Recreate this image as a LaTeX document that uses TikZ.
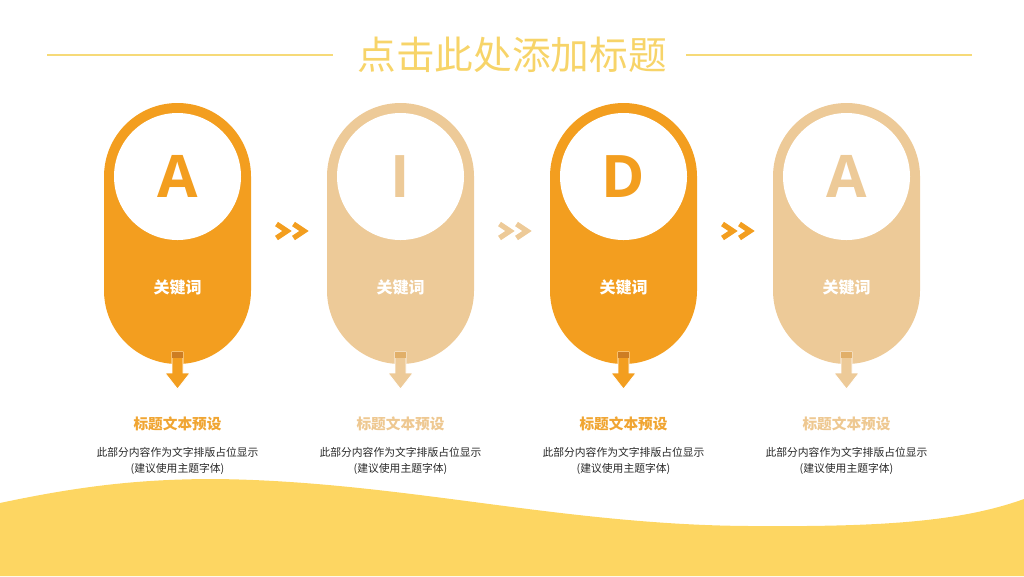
\documentclass[tikz,border=0pt]{standalone}
\usepackage{fontspec}
\setmainfont{Noto Sans CJK SC}
\newfontfamily\letf{Open Sans}
\definecolor{orD}{RGB}{243,158,31}
\definecolor{orL}{RGB}{237,202,152}
\definecolor{orDk}{RGB}{205,125,35}
\definecolor{orLk}{RGB}{225,175,105}
\definecolor{ttl}{RGB}{247,212,105}
\definecolor{lin}{RGB}{246,218,120}
\definecolor{wave}{RGB}{253,214,98}
\definecolor{txtD}{RGB}{240,165,50}
\definecolor{txtL}{RGB}{238,200,145}
\definecolor{desc}{RGB}{40,40,40}
\tikzset{
  capsule/.style={rectangle, rounded corners=55.1pt, minimum width=110.25pt, minimum height=195.75pt, inner sep=0pt},
  disc/.style={circle, fill=white, minimum size=95.25pt, inner sep=0pt, font=\letf\fontsize{44}{44}\selectfont\bfseries},
  keyw/.style={text=white, font=\fontsize{12}{14}\selectfont\bfseries},
  hd/.style={font=\fontsize{11}{13}\selectfont\bfseries},
  ds/.style={text=desc, align=center, font=\fontsize{8.1}{11.3}\selectfont},
  chev/.style={line width=3.9pt, miter limit=10},
}
\begin{document}
\begin{tikzpicture}[x=0.75pt,y=-0.75pt]
\useasboundingbox (0,0) rectangle (1024,576);
% wave
\fill[wave] (0,503) .. controls (80,486) and (140,479) .. (215,479) .. controls (400,481) and (560,525) .. (750,526) .. controls (880,527) and (960,522) .. (1024,499) -- (1024,576) -- (0,576) -- cycle;
% title
\node[text=ttl, font=\fontsize{29}{30}\selectfont] (title) at (512,55) {点击此处添加标题};
\coordinate (ll) at (47,55);
\coordinate (rr) at (972,55);
\draw[lin, line width=1.5pt] (ll) -- (333,55);
\draw[lin, line width=1.5pt] (686,55) -- (rr);
% capsules
\foreach \i/\cx/\L/\cf/\ck/\ct in {1/177.5/A/orD/orDk/txtD, 2/400.5/I/orL/orLk/txtL, 3/623.5/D/orD/orDk/txtD, 4/846.5/A/orL/orLk/txtL}{
  \node[capsule, fill=\cf] (cap\i) at (\cx,233.5) {};
  \node[disc, text=\cf] (disc\i) at (\cx,176.5) {\L};
  \node[keyw] (kw\i) at (\cx,287) {关键词};
  \fill[\cf, draw=white, line width=0.6pt] (\cx-5.5,352) -- (\cx+5.5,352) -- (\cx+5.5,373) -- (\cx+12.5,373) -- (\cx,389) -- (\cx-12.5,373) -- (\cx-5.5,373) -- cycle;
  \fill[\ck] (\cx-5.2,352.3) rectangle (\cx+5.2,357.5);
  \node[hd, text=\ct] (hd\i) at (\cx,424) {标题文本预设};
  \node[ds] (ds\i) at (\cx,461) {此部分内容作为文字排版占位显示\\(建议使用主题字体)};
}
% chevrons
\foreach \j/\bx/\cc in {1/276.5/orD, 2/499.5/orL, 3/722.5/orD}{
  \draw[chev, \cc] (\bx,224) -- (\bx+10.5,231) -- (\bx,238);
  \draw[chev, \cc] (\bx+17,224) -- (\bx+27.5,231) -- (\bx+17,238);
}
\end{tikzpicture}
\end{document}
